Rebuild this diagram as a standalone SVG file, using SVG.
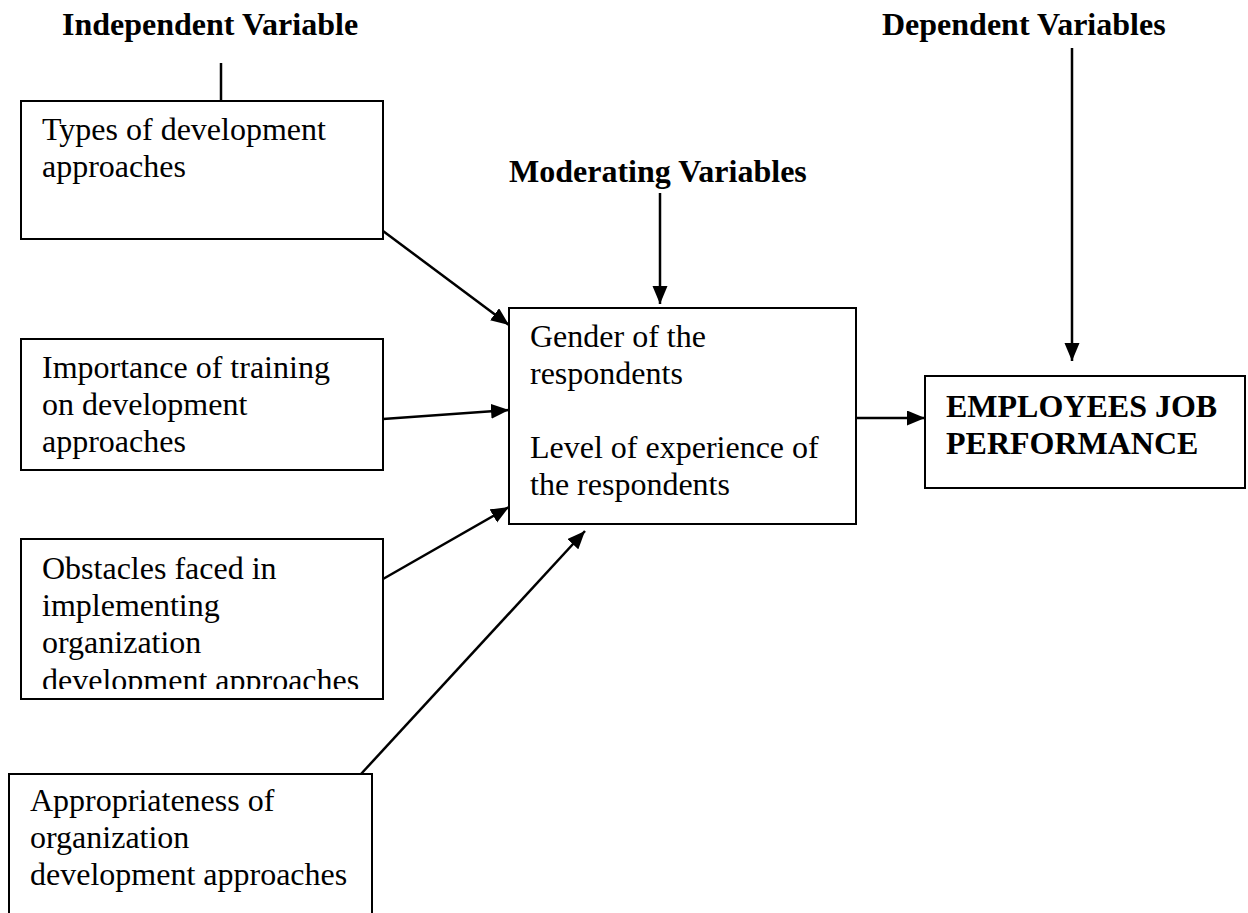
<svg xmlns="http://www.w3.org/2000/svg" width="1248" height="913" viewBox="0 0 1248 913">
<style>
.box{fill:#fff;stroke:#000;stroke-width:2}
.t{font-family:"Liberation Serif","Times New Roman",serif;font-size:32px;fill:#000}
.b{font-weight:bold}
.c{stroke:#000;stroke-width:2.5;fill:none}
</style>
<defs>
<marker id="ah" markerUnits="userSpaceOnUse" markerWidth="19" markerHeight="16" refX="18" refY="7.5" orient="auto">
<path d="M0,0 L18,7.5 L0,15 z" fill="#000"/>
</marker>
<clipPath id="clip3"><rect x="21" y="539" width="362" height="150"/></clipPath>
</defs>
<rect width="1248" height="913" fill="#fff"/>
<g id="titles">
<text class="t b" x="62" y="35">Independent Variable</text>
<text class="t b" x="509" y="182">Moderating Variables</text>
<text class="t b" x="882" y="35">Dependent Variables</text>
</g>
<g id="connectors">
<line class="c" x1="221" y1="63" x2="221" y2="101"/>
<line class="c" x1="383" y1="231" x2="509" y2="325" marker-end="url(#ah)"/>
<line class="c" x1="383" y1="419" x2="509" y2="410" marker-end="url(#ah)"/>
<line class="c" x1="383" y1="579" x2="509" y2="507" marker-end="url(#ah)"/>
<line class="c" x1="361" y1="774" x2="585" y2="531" marker-end="url(#ah)"/>
<line class="c" x1="660" y1="193" x2="660" y2="304" marker-end="url(#ah)"/>
<line class="c" x1="1072" y1="48" x2="1072" y2="361" marker-end="url(#ah)"/>
<line class="c" x1="856" y1="418" x2="925" y2="418" marker-end="url(#ah)"/>
</g>
<g id="node-types">
<rect class="box" x="21" y="101" width="362" height="138"/>
<text class="t" x="42" y="140">Types of development</text>
<text class="t" x="42" y="177">approaches</text>
</g>
<g id="node-importance">
<rect class="box" x="21" y="339" width="362" height="131"/>
<text class="t" x="42" y="378">Importance of training</text>
<text class="t" x="42" y="415">on development</text>
<text class="t" x="42" y="452">approaches</text>
</g>
<g id="node-obstacles">
<rect class="box" x="21" y="539" width="362" height="160"/>
<g clip-path="url(#clip3)">
<text class="t" x="42" y="579">Obstacles faced in</text>
<text class="t" x="42" y="616">implementing</text>
<text class="t" x="42" y="653">organization</text>
<text class="t" x="42" y="691">development approaches</text>
</g>
</g>
<g id="node-appropriateness">
<rect class="box" x="9" y="774" width="363" height="160"/>
<text class="t" x="30" y="811">Appropriateness of</text>
<text class="t" x="30" y="848">organization</text>
<text class="t" x="30" y="885">development approaches</text>
</g>
<g id="node-moderating">
<rect class="box" x="509" y="308" width="347" height="216"/>
<text class="t" x="530" y="347">Gender of the</text>
<text class="t" x="530" y="384">respondents</text>
<text class="t" x="530" y="458">Level of experience of</text>
<text class="t" x="530" y="495">the respondents</text>
</g>
<g id="node-performance">
<rect class="box" x="925" y="376" width="320" height="112"/>
<text class="t b" x="946" y="417">EMPLOYEES JOB</text>
<text class="t b" x="946" y="454">PERFORMANCE</text>
</g>
</svg>
